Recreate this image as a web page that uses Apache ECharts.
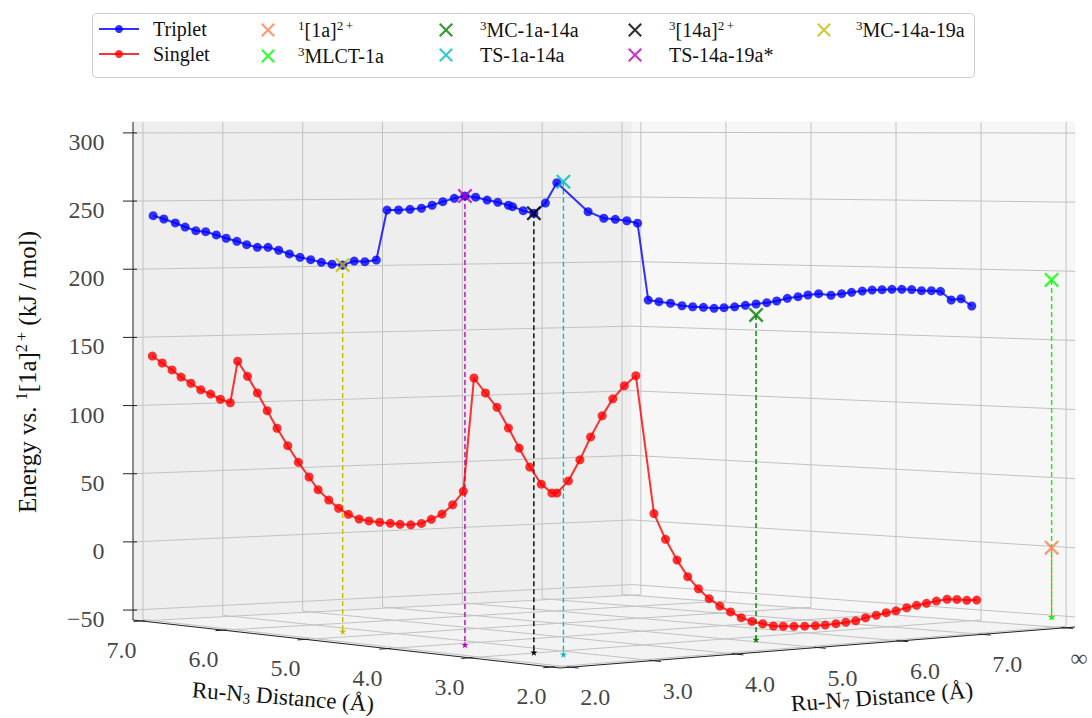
<!DOCTYPE html>
<html><head><meta charset="utf-8">
<script src="https://cdn.jsdelivr.net/npm/echarts@6/dist/echarts.min.js"></script>
<style>html,body{margin:0;padding:0;background:#fff}#c{width:1092px;height:718px}</style>
</head><body><div id="c"></div>
<script>
// ---------------- DATA ----------------
// Ru-N3 scan (Ru-N7 held near 2.0 Å)
const tripletN3 = [6.98,6.85,6.71,6.59,6.46,6.34,6.21,6.09,5.96,5.84,5.71,5.58,5.45,5.32,5.19,5.06,4.93,4.80,4.67,4.53,4.40,4.26,4.13,3.99,3.85,3.71,3.58,3.45,3.31,3.18,3.05,2.91,2.78,2.65,2.60,2.47,2.34,2.20,2.06];
const tripletN3E = [239.4,237.1,234.4,231.6,229.1,228.6,226.4,224.2,222.2,220.0,218.3,218.5,216.6,214.2,212.0,210.6,208.9,207.8,207.5,210.5,210.3,211.7,246.7,246.9,247.5,248.4,250.6,253.2,255.6,257.3,256.6,254.8,253.4,251.5,250.6,248.0,246.4,253.4,267.2];
const singletN3 = [6.99,6.87,6.75,6.64,6.52,6.40,6.28,6.16,6.04,5.95,5.83,5.71,5.59,5.47,5.34,5.21,5.08,4.97,4.84,4.72,4.60,4.47,4.35,4.22,4.09,3.97,3.84,3.71,3.59,3.46,3.33,3.20,3.07,2.93,2.79,2.65,2.52,2.39,2.25,2.12,2.06];
const singletN3E = [136.5,131.8,127.1,122.3,118.2,113.9,111.2,107.9,105.8,136.0,125.5,114.0,101.8,89.7,77.8,66.5,56.7,48.2,41.5,36.3,32.6,29.9,29.2,28.9,28.8,28.7,29.0,30.6,34.0,38.2,45.2,55.0,133.0,123.2,113.9,100.3,87.2,74.9,63.9,58.4,58.7];
// Ru-N7 scan (Ru-N3 held near 2.05 Å)
const tripletN7 = [2.37,2.56,2.70,2.84,2.97,3.10,3.23,3.37,3.51,3.64,3.77,3.90,4.02,4.15,4.28,4.41,4.54,4.66,4.79,4.92,5.04,5.17,5.32,5.45,5.57,5.70,5.82,5.94,6.06,6.18,6.30,6.42,6.54,6.65,6.78,6.90,7.03];
const tripletN7E = [247.5,242.9,242.1,241.0,239.2,186.8,185.5,184.2,182.3,181.4,180.8,179.9,180.2,180.6,181.4,182.1,182.8,183.8,185.5,186.4,187.4,188.1,186.8,187.7,188.5,189.2,189.7,189.8,189.9,189.7,189.3,188.4,188.2,187.6,181.2,181.9,176.5];
const singletN7 = [2.13,2.27,2.40,2.54,2.67,2.81,2.95,3.17,3.31,3.45,3.58,3.71,3.84,3.97,4.10,4.23,4.36,4.49,4.62,4.74,4.87,5.00,5.13,5.25,5.38,5.50,5.62,5.74,5.87,5.99,6.11,6.24,6.36,6.48,6.60,6.73,6.85,6.97,7.09];
const singletN7E = [66.5,80.3,95.4,109.3,120.5,129.1,135.6,41.2,23.2,8.5,-3.3,-12.1,-19.4,-25.0,-29.6,-34.1,-37.2,-39.4,-41.5,-42.2,-42.8,-43.3,-43.5,-43.6,-43.2,-42.7,-42.2,-40.6,-39.4,-38.1,-37.3,-35.7,-34.5,-33.6,-32.5,-31.8,-32.4,-33.6,-33.9];
const leftBranchN7 = 2.0;
const rightBranchN3 = 2.05;

// Stationary points (∞ plotted at 8.0 Å)
const stateNames = ['1[1a]2+','3MLCT-1a','3MC-1a-14a','TS-1a-14a','3[14a]2+','TS-14a-19a*','3MC-14a-19a'];
const stateN3 = [2.05,2.05,2.05,2.05,2.34,3.18,4.67];
const stateN7 = [8.0,8.0,4.41,2.07,2.0,2.0,2.0];
const stateE  = [0,193.7,174.5,267.9,246.4,257.3,207.5];
const dropFloorEnergy = -50;

// Tick values / labels
const n3Ticks = [7,6,5,4,3,2];
const n3TickLabels = ['7.0','6.0','5.0','4.0','3.0','2.0'];
const n7Ticks = [2,3,4,5,6,7,8];
const n7TickLabels = ['2.0','3.0','4.0','5.0','6.0','7.0','∞'];
const energyTicks = [-50,0,50,100,150,200,250,300];
const energyTickLabels = ['\u221250','0','50','100','150','200','250','300'];

// ---------------- STYLE / LAYOUT ----------------
const stateColors = ['#ff7f50','#00ff00','#008000','#00bfbf','#000000','#bf00bf','#bfbf00'];
const FONT = "'Liberation Serif','DejaVu Serif',serif";
const BOX = {n3min:1.896, n3max:7.104, n7min:1.875, n7max:8.125, emin:-57.3, emax:308};
const SCR = {L:[133,620], F:[560,668], R:[1075,627], B:[632,594], top:122};

function proj(n3, n7, e) {
  const u = (BOX.n3max - n3) / (BOX.n3max - BOX.n3min);
  const v = (n7 - BOX.n7min) / (BOX.n7max - BOX.n7min);
  const w = [(1-u)*(1-v), u*(1-v), u*v, (1-u)*v];
  const c = [SCR.L, SCR.F, SCR.R, SCR.B];
  let x = 0, y = 0;
  for (let i = 0; i < 4; i++) { x += w[i]*c[i][0]; y += w[i]*c[i][1]; }
  const t = (BOX.emax - e) / (BOX.emax - BOX.emin);
  return [x, SCR.top + (y - SCR.top) * t];
}
function seg(a, b) { return [a[0], a[1], b[0], b[1]]; }

// panes
const panes = [
  [proj(BOX.n3max,BOX.n7min,BOX.emin), proj(BOX.n3min,BOX.n7min,BOX.emin), proj(BOX.n3min,BOX.n7max,BOX.emin), proj(BOX.n3max,BOX.n7max,BOX.emin)],
  [proj(BOX.n3max,BOX.n7min,BOX.emin), proj(BOX.n3max,BOX.n7max,BOX.emin), proj(BOX.n3max,BOX.n7max,BOX.emax), proj(BOX.n3max,BOX.n7min,BOX.emax)],
  [proj(BOX.n3max,BOX.n7max,BOX.emin), proj(BOX.n3min,BOX.n7max,BOX.emin), proj(BOX.n3min,BOX.n7max,BOX.emax), proj(BOX.n3max,BOX.n7max,BOX.emax)]
];
const paneColors = ['#f3f3f3', '#eeeeee', '#f7f7f7'];

const gridSegs = [];
for (const t of n7Ticks) {
  gridSegs.push(seg(proj(BOX.n3max,t,BOX.emin), proj(BOX.n3max,t,BOX.emax)));
  gridSegs.push(seg(proj(BOX.n3max,t,BOX.emin), proj(BOX.n3min,t,BOX.emin)));
}
for (const t of n3Ticks) {
  gridSegs.push(seg(proj(t,BOX.n7max,BOX.emin), proj(t,BOX.n7max,BOX.emax)));
  gridSegs.push(seg(proj(t,BOX.n7min,BOX.emin), proj(t,BOX.n7max,BOX.emin)));
}
for (const e of energyTicks) {
  gridSegs.push(seg(proj(BOX.n3max,BOX.n7min,e), proj(BOX.n3max,BOX.n7max,e)));
  gridSegs.push(seg(proj(BOX.n3max,BOX.n7max,e), proj(BOX.n3min,BOX.n7max,e)));
}

const axisSegs = [
  seg(proj(BOX.n3max,BOX.n7min,BOX.emin), proj(BOX.n3min,BOX.n7min,BOX.emin)),
  seg(proj(BOX.n3min,BOX.n7min,BOX.emin), proj(BOX.n3min,BOX.n7max,BOX.emin)),
  seg(proj(BOX.n3max,BOX.n7min,BOX.emin), proj(BOX.n3max,BOX.n7min,BOX.emax))
];
for (const t of n3Ticks) axisSegs.push(seg(proj(t,BOX.n7min-0.1,BOX.emin), proj(t,BOX.n7min+0.04,BOX.emin)));
for (const t of n7Ticks) axisSegs.push(seg(proj(BOX.n3min+0.04,t,BOX.emin), proj(BOX.n3min-0.1,t,BOX.emin)));
for (const e of energyTicks) { const p = proj(BOX.n3max,BOX.n7min,e); axisSegs.push([p[0]-10,p[1],p[0]+4,p[1]]); }

const tripletPts = tripletN3.map((d,i)=>proj(d,leftBranchN7,tripletN3E[i]))
  .concat(tripletN7.map((d,i)=>proj(rightBranchN3,d,tripletN7E[i])));
const singletPts = singletN3.map((d,i)=>proj(d,leftBranchN7,singletN3E[i]))
  .concat(singletN7.map((d,i)=>proj(rightBranchN3,d,singletN7E[i])));

const XPATH = 'path://M0,1.1L1.1,0L10,8.9L8.9,10Z M8.9,0L10,1.1L1.1,10L0,8.9Z';
const STAR = 'path://M5,0L6.2,3.6L10,3.6L6.9,5.9L8.1,9.5L5,7.3L1.9,9.5L3.1,5.9L0,3.6L3.8,3.6Z';

const RICH_NAMES = {
  'Triplet':'{n|Triplet}', 'Singlet':'{n|Singlet}',
  '1[1a]2+':'{sup|1}{n|[1a]}{sup|2\u2009+}',
  '3MLCT-1a':'{sup|3}{n|MLCT-1a}',
  '3MC-1a-14a':'{sup|3}{n|MC-1a-14a}',
  'TS-1a-14a':'{n|TS-1a-14a}',
  '3[14a]2+':'{sup|3}{n|[14a]}{sup|2\u2009+}',
  'TS-14a-19a*':'{n|TS-14a-19a*}',
  '3MC-14a-19a':'{sup|3}{n|MC-14a-19a}'
};
const legendRich = {
  n:{fontFamily:FONT, fontSize:20, lineHeight:22, color:'#111'},
  sup:{fontFamily:FONT, fontSize:13, lineHeight:12, verticalAlign:'top', color:'#111'}
};
const legendCols = [
  {left:98, names:['Triplet','Singlet'], iw:40, ih:10, pad:9},
  {left:261, names:['1[1a]2+','3MLCT-1a'], iw:14, ih:14, pad:18},
  {left:439, names:['3MC-1a-14a','TS-1a-14a'], iw:14, ih:14, pad:22},
  {left:628, names:['3[14a]2+','TS-14a-19a*'], iw:14, ih:14, pad:22},
  {left:817, names:['3MC-14a-19a'], iw:14, ih:14, pad:20}
];

function labelSeries(items, labelOpts) {
  return {type:'scatter', silent:true, symbolSize:1, z:3, itemStyle:{color:'rgba(0,0,0,0)'},
    data: items.map(it => ({value: it.pos, label:{formatter: it.text}})),
    label: Object.assign({show:true, fontFamily:FONT, fontSize:24, color:'#111'}, labelOpts)};
}
const n3LabelItems = n3Ticks.map((t,i)=>{const p=proj(t,BOX.n7min,BOX.emin); return {pos:[p[0]-20,p[1]+29], text:n3TickLabels[i]};});
const n7LabelItems = n7Ticks.map((t,i)=>{const p=proj(BOX.n3min,t,BOX.emin); return {pos:[Math.min(p[0]+25,1079),p[1]+30], text:n7TickLabels[i]};});
const eLabelItems = energyTicks.map((e,i)=>{const p=proj(BOX.n3max,BOX.n7min,e); return {pos:[p[0]-28,p[1]+9], text:energyTickLabels[i]};});

const series = [
  {type:'custom', silent:true, z:0, data: panes.map((p,i)=>[i,0]), encode:{x:0,y:1},
    renderItem:(params, api)=>{ const i = api.value(0);
      return {type:'polygon', shape:{points: panes[i].map(pt=>api.coord(pt))}, style:{fill:paneColors[i], stroke:paneColors[i]}}; }},
  {type:'custom', silent:true, z:1, data: gridSegs, encode:{x:[0,2], y:[1,3]},
    renderItem:(params, api)=>{ const a=api.coord([api.value(0),api.value(1)]), b=api.coord([api.value(2),api.value(3)]);
      return {type:'line', shape:{x1:a[0],y1:a[1],x2:b[0],y2:b[1]}, style:{stroke:'#c2c2c2', lineWidth:1}}; }},
  {type:'custom', silent:true, z:2, data: axisSegs, encode:{x:[0,2], y:[1,3]},
    renderItem:(params, api)=>{ const a=api.coord([api.value(0),api.value(1)]), b=api.coord([api.value(2),api.value(3)]);
      return {type:'line', shape:{x1:a[0],y1:a[1],x2:b[0],y2:b[1]}, style:{stroke:'#222', lineWidth:1}}; }},
  labelSeries(n3LabelItems, {position:'inside'}),
  labelSeries(n7LabelItems, {position:'inside'}),
  labelSeries(eLabelItems, {position:'left', distance:0}),
  {type:'line', name:'Triplet', silent:true, z:5, data: tripletPts, symbol:'circle', symbolSize:9, showSymbol:true,
    lineStyle:{color:'#0000ff', width:2, opacity:0.8}, itemStyle:{color:'#0000ff', opacity:0.8}},
  {type:'line', name:'Singlet', silent:true, z:5, data: singletPts, symbol:'circle', symbolSize:9, showSymbol:true,
    lineStyle:{color:'#ff0000', width:2, opacity:0.8}, itemStyle:{color:'#ff0000', opacity:0.8}}
];
stateNames.forEach((nm,i)=>{
  const top = proj(stateN3[i], stateN7[i], stateE[i]);
  const bot = proj(stateN3[i], stateN7[i], dropFloorEnergy);
  series.push({type:'line', silent:true, z:4, symbol:STAR, symbolSize:7,
    data:[{value:top, symbol:'none'}, {value:bot}],
    lineStyle:{color:stateColors[i], width:1.4, type:[5,3]}, itemStyle:{color:stateColors[i]}});
  series.push({type:'scatter', name:nm, silent:true, z:7, symbol:XPATH, symbolSize:15,
    data:[top], itemStyle:{color:stateColors[i]}});
});

const titleRich = {
  n:{fontFamily:FONT, fontSize:25, lineHeight:28, fill:'#111'},
  sup:{fontFamily:FONT, fontSize:16, lineHeight:14, verticalAlign:'top', fill:'#111'},
  sub:{fontFamily:FONT, fontSize:16, lineHeight:17, verticalAlign:'bottom', fill:'#111'}
};
const titleRichSmall = {
  n:{fontFamily:FONT, fontSize:23, lineHeight:24, fill:'#111'},
  sub:{fontFamily:FONT, fontSize:15, lineHeight:15, verticalAlign:'bottom', fill:'#111'}
};

const option = {
  animation:false,
  grid:{left:0, right:0, top:0, bottom:0},
  xAxis:{type:'value', min:0, max:1092, show:false},
  yAxis:{type:'value', min:0, max:718, inverse:true, show:false},
  legend: legendCols.map(c=>({
    orient:'vertical', left:c.left, top:19, padding:0, itemGap:5, itemWidth:c.iw, itemHeight:c.ih,
    data:c.names, selectedMode:false, formatter: n => RICH_NAMES[n],
    textStyle:{color:'#111', fontFamily:FONT, fontSize:20, padding:[0,0,0,c.pad], rich:legendRich}
  })),
  graphic:[
    {type:'rect', silent:true, z:-10, shape:{x:92.5, y:13.5, width:882, height:64, r:4}, style:{fill:'#fff', stroke:'#cccccc', lineWidth:1}},
    {type:'text', silent:true, x:27, y:372, rotation:Math.PI/2,
      style:{text:'{n|Energy vs. }{sup|1}{n|[1a]}{sup|2\u2009+}{n| (kJ\u2009/\u2009mol)}', rich:titleRich, align:'center', verticalAlign:'middle'}},
    {type:'text', silent:true, x:283, y:697, rotation:-0.08,
      style:{text:'{n|Ru-N}{sub|3}{n| Distance (Å)}', rich:titleRichSmall, align:'center', verticalAlign:'middle'}},
    {type:'text', silent:true, x:882, y:697, rotation:0.075,
      style:{text:'{n|Ru-N}{sub|7}{n| Distance (Å)}', rich:titleRichSmall, align:'center', verticalAlign:'middle'}}
  ],
  series
};
const chart = echarts.init(document.getElementById('c'), null, {renderer:'svg', width:1092, height:718});
chart.setOption(option);
</script>
</body></html>
